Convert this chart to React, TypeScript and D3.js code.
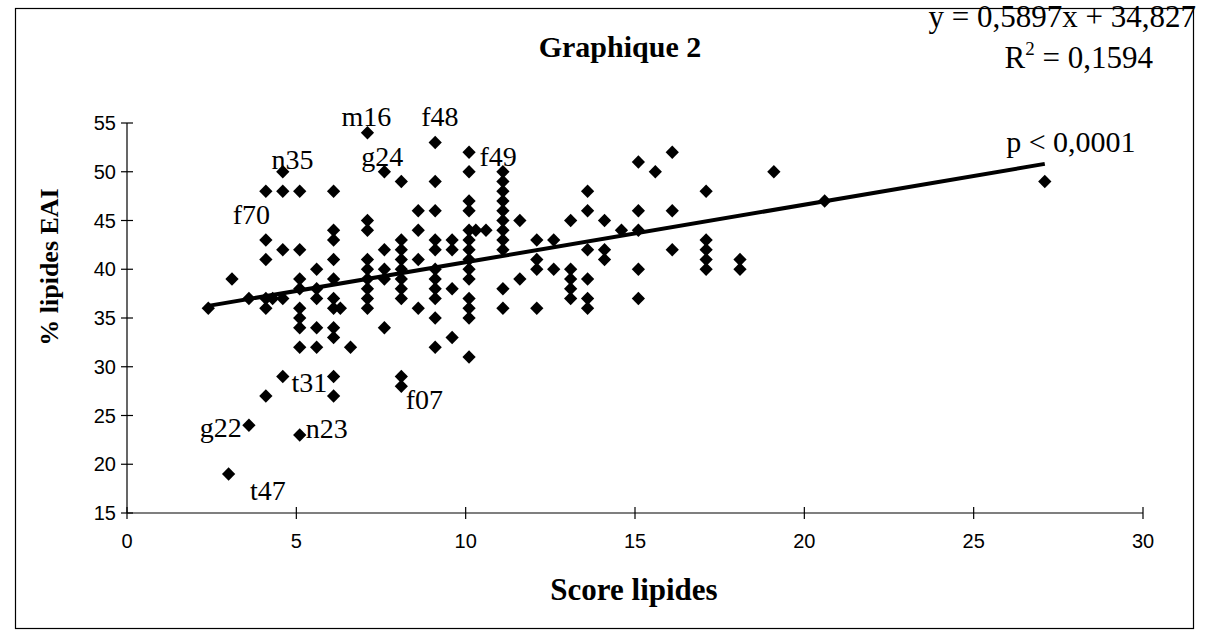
import React from 'react'
import * as d3 from 'd3'

// scores lipides, one entry per column of points
const columnScores = [
  2.4, 3.0, 3.1, 3.6, 4.1, 4.3, 4.6, 5.1, 5.6, 6.1, 6.3, 6.6, 7.1, 7.6, 8.1, 8.6, 9.1, 9.6,
  10.1, 10.3, 10.6, 11.1, 11.6, 12.1, 12.6, 13.1, 13.6, 14.1, 14.6, 15.1, 15.6, 16.1, 17.1,
  18.1, 19.1, 20.6, 27.1
]

// % lipides EAI for each column above
const columnValues = [
  [36],
  [19],
  [39],
  [37, 24],
  [48, 43, 41, 37, 36, 27],
  [37],
  [50, 48, 42, 37, 29],
  [48, 42, 39, 38, 36, 35, 34, 32, 23],
  [40, 38, 37, 34, 32],
  [48, 44, 43, 41, 39, 37, 36, 34, 33, 29, 27],
  [36],
  [32],
  [54, 45, 44, 41, 40, 39, 38, 37, 36],
  [50, 42, 40, 39, 34],
  [49, 43, 42, 41, 40, 39, 38, 37, 29, 28],
  [46, 44, 41, 36],
  [53, 49, 46, 43, 42, 40, 39, 38, 37, 35, 32],
  [43, 42, 38, 33],
  [52, 50, 47, 46, 44, 43, 42, 41, 40, 39, 37, 36, 35, 31],
  [44],
  [44],
  [50, 49, 48, 47, 46, 45, 44, 43, 42, 38, 36],
  [45, 39],
  [43, 41, 40, 36],
  [43, 40],
  [45, 40, 39, 38, 37],
  [48, 46, 42, 39, 37, 36],
  [45, 42, 41],
  [44],
  [51, 46, 44, 40, 37],
  [50],
  [52, 46, 42],
  [48, 43, 42, 41, 40],
  [41, 40],
  [50],
  [47],
  [49]
]

// linear trend (Excel)
const slope = 0.5897
const intercept = 34.827

const xTicks = [0, 5, 10, 15, 20, 25, 30]
const yTicks = [15, 20, 25, 30, 35, 40, 45, 50, 55]

// subject labels, placed in data units (left edge / baseline of the text)
const labelNames = ['m16', 'f48', 'g24', 'f49', 'n35', 'f70', 't31', 'g22', 'n23', 't47', 'f07', 'p < 0,0001']
const labelX = [6.33, 8.69, 6.92, 10.41, 4.27, 3.12, 4.86, 2.15, 5.28, 3.63, 8.23, 25.96]
const labelY = [54.7, 54.7, 50.6, 50.6, 50.3, 44.6, 27.4, 22.8, 22.65, 16.3, 25.7, 52.0]

const W = 1206
const H = 644
const serif = '"Liberation Serif", "Times New Roman", serif'
const sans = '"Liberation Sans", Arial, sans-serif'

export default function App() {
  const x = d3.scaleLinear().domain([0, 30]).range([127, 1143])
  const y = d3.scaleLinear().domain([15, 55]).range([513, 123])

  const points = columnScores.flatMap((s, i) => columnValues[i].map(v => ({ s, v })))
  const [xMin, xMax] = d3.extent(points, d => d.s) as [number, number]
  const trend = d3.line<number>()
    .x(d => x(d))
    .y(d => y(slope * d + intercept))([xMin, xMax])

  const diamond = d3.symbol().type(d3.symbolDiamond2).size(112)()

  return (
    <svg
      width={W}
      height={H}
      style={{ position: 'absolute', left: 0, top: 0, background: '#fff' }}
    >
      <rect x={0} y={0} width={W} height={H} fill="#fff" />
      {/* frame */}
      <rect x={15.5} y={8.5} width={1178} height={620} fill="none" stroke="#000" strokeWidth={1.2} />

      {/* axes */}
      <line x1={x(0)} x2={x(30)} y1={y(15)} y2={y(15)} stroke="#000" strokeWidth={1.2} />
      <line x1={x(0)} x2={x(0)} y1={y(15)} y2={y(55)} stroke="#000" strokeWidth={1.2} />
      {xTicks.map(t => (
        <g key={'xt' + t}>
          <line x1={x(t)} x2={x(t)} y1={y(15) - 6} y2={y(15) + 6} stroke="#000" strokeWidth={1.2} />
          <text x={x(t)} y={548} textAnchor="middle" fontFamily={sans} fontSize={20}>{t}</text>
        </g>
      ))}
      {yTicks.map(t => (
        <g key={'yt' + t}>
          <line x1={x(0) - 6} x2={x(0) + 6} y1={y(t)} y2={y(t)} stroke="#000" strokeWidth={1.2} />
          <text x={116} y={y(t) + 7} textAnchor="end" fontFamily={sans} fontSize={20}>{t}</text>
        </g>
      ))}

      {/* axis titles */}
      <text x={634} y={600} textAnchor="middle" fontFamily={serif} fontWeight="bold" fontSize={31}>
        Score lipides
      </text>
      <text
        transform="translate(58,267) rotate(-90)"
        textAnchor="middle"
        fontFamily={serif}
        fontWeight="bold"
        fontSize={26}
      >
        % lipides EAI
      </text>

      {/* title and equation */}
      <text x={620} y={57} textAnchor="middle" fontFamily={serif} fontWeight="bold" fontSize={30}>
        Graphique 2
      </text>
      <text x={1196} y={27} textAnchor="end" fontFamily={serif} fontSize={31}>
        y = 0,5897x + 34,827
      </text>
      <text x={1153} y={68} textAnchor="end" fontFamily={serif} fontSize={31}>
        R<tspan fontSize={19} dy={-13}>2</tspan><tspan dy={13}> = 0,1594</tspan>
      </text>

      {/* points */}
      {points.map((p, i) => (
        <path key={i} d={diamond!} transform={`translate(${x(p.s)},${y(p.v)})`} fill="#000" />
      ))}

      {/* trend line */}
      <path d={trend!} fill="none" stroke="#000" strokeWidth={4} />

      {/* labels */}
      {labelNames.map((n, i) => (
        <text key={n} x={x(labelX[i])} y={y(labelY[i])} fontFamily={serif} fontSize={n.length > 4 ? 30 : 28}>
          {n}
        </text>
      ))}
    </svg>
  )
}
